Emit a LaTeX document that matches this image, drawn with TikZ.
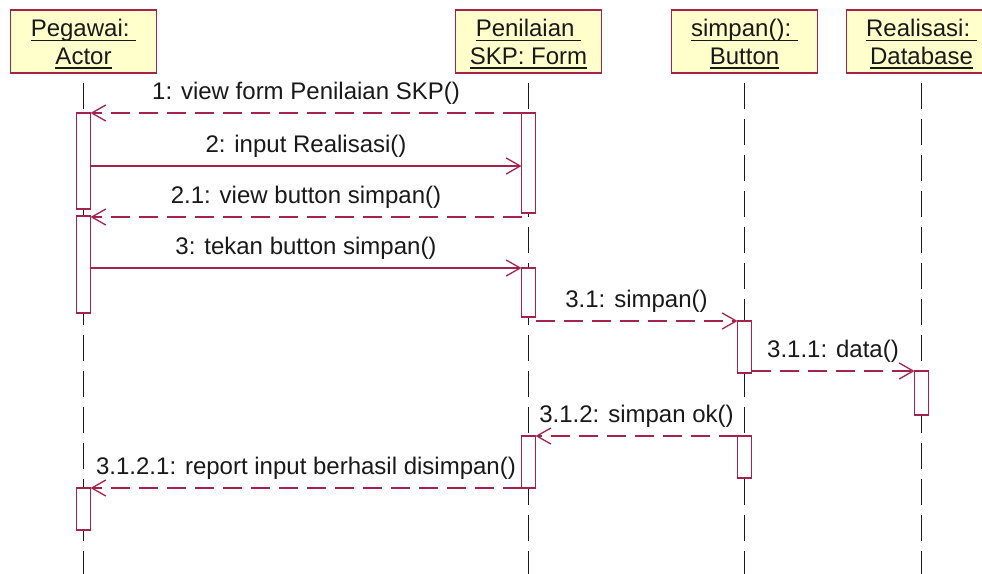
\documentclass[tikz,border=0pt]{standalone}
\usepackage{fontspec}
\setmainfont{Liberation Sans}
\usetikzlibrary{arrows.meta}

\definecolor{umlred}{RGB}{165,35,75}
\definecolor{umlfill}{RGB}{255,255,204}
\definecolor{umlink}{RGB}{25,25,25}

% underlined object name as drawn in UML headers
\newcommand\ulword[1]{\setbox0\hbox{#1}\rlap{\rule[-4.6pt]{\wd0}{1.4pt}}\box0}

\begin{document}
\begin{tikzpicture}[x=1pt,y=-1pt,
  every node/.style={inner sep=0pt,outer sep=0pt},
  objbox/.style={draw=umlred,line width=1.7pt,fill=umlfill,
    minimum width=146pt,minimum height=63pt,align=center,
    font=\fontsize{24}{27.5}\selectfont,text=umlink},
  lifeline/.style={draw=umlink,line width=1.5pt,dash pattern=on 26pt off 10pt},
  actbox/.style={draw=umlred,line width=1.6pt,fill=white,minimum width=14pt},
  call/.style={draw=umlred,line width=1.4pt,
    -{Straight Barb[length=14pt,width=16pt,line width=1.3pt]}},
  ret/.style={call,dash pattern=on 19pt off 9pt},
  msg/.style={anchor=base,yshift=14pt,font=\fontsize{24}{28}\selectfont,text=umlink}
]
\fill[white] (0,0) rectangle (982,573);
\useasboundingbox (0,0) rectangle (982,573);
\clip (0,0) rectangle (982,573);

% object headers
\node[objbox] (pg) at (83.5,41.5)
  {\rule{0pt}{22.5pt}\ulword{Pegawai:~}\\\ulword{Actor}};
\node[objbox] (fm) at (528.5,41.5)
  {\rule{0pt}{22.5pt}\ulword{Penilaian~}\\\ulword{SKP: Form}};
\node[objbox] (bt) at (744.5,41.5)
  {\rule{0pt}{22.5pt}\ulword{simpan():~}\\\ulword{Button}};
\node[objbox,minimum width=150pt] (db) at (921.5,41.5)
  {\rule{0pt}{22.5pt}\ulword{Realisasi:~}\\\ulword{Database}};

% bottom of the lifelines
\coordinate (bot) at (0,580);

% lifelines
\foreach \o in {pg,fm,bt,db}
  \draw[lifeline] ([yshift=-10pt]\o.south) -- (\o |- bot);

% activation bars
\node[actbox,minimum height=96pt] (a1) at (83.5,161) {};
\node[actbox,minimum height=97pt] (a2) at (83.5,264.5) {};
\node[actbox,minimum height=42pt] (a3) at (83.5,509) {};
\node[actbox,minimum height=100pt] (f1) at (528.5,163) {};
\node[actbox,minimum height=49pt] (f2) at (528.5,292.5) {};
\node[actbox,minimum height=52pt] (f3) at (528.5,462) {};
\node[actbox,minimum height=52pt] (b1) at (744.5,347) {};
\node[actbox,minimum height=42pt] (b2) at (744.5,457) {};
\node[actbox,minimum height=44pt] (d1) at (921.5,393) {};

% message levels
\coordinate (y2) at (0,166);
\coordinate (y3) at (0,217);
\coordinate (y5) at (0,321);
\coordinate (y6) at (0,371);

% messages
\draw[ret] (f1.north west) -- node[msg] {1: view form Penilaian SKP()} (a1.north east);
\draw[call] (a1.east |- y2) -- node[msg] {2: input Realisasi()} (f1.west |- y2);
\draw[ret] (f1.west |- y3) -- node[msg] {2.1: view button simpan()} (a2.east |- y3);
\draw[call] (a2.east |- f2.north) -- node[msg] {3: tekan button simpan()} (f2.north west);
\draw[ret] (f2.east |- y5) -- node[msg] {3.1: simpan()} (b1.north west);
\draw[ret] (b1.east |- y6) -- node[msg] {3.1.1: data()} (d1.north west);
\draw[ret] (b2.north west) -- node[msg] {3.1.2: simpan ok()} (f3.north east);
\draw[ret] (f3.south west) -- node[msg] {3.1.2.1: report input berhasil disimpan()} (a3.north east);
\end{tikzpicture}
\end{document}
